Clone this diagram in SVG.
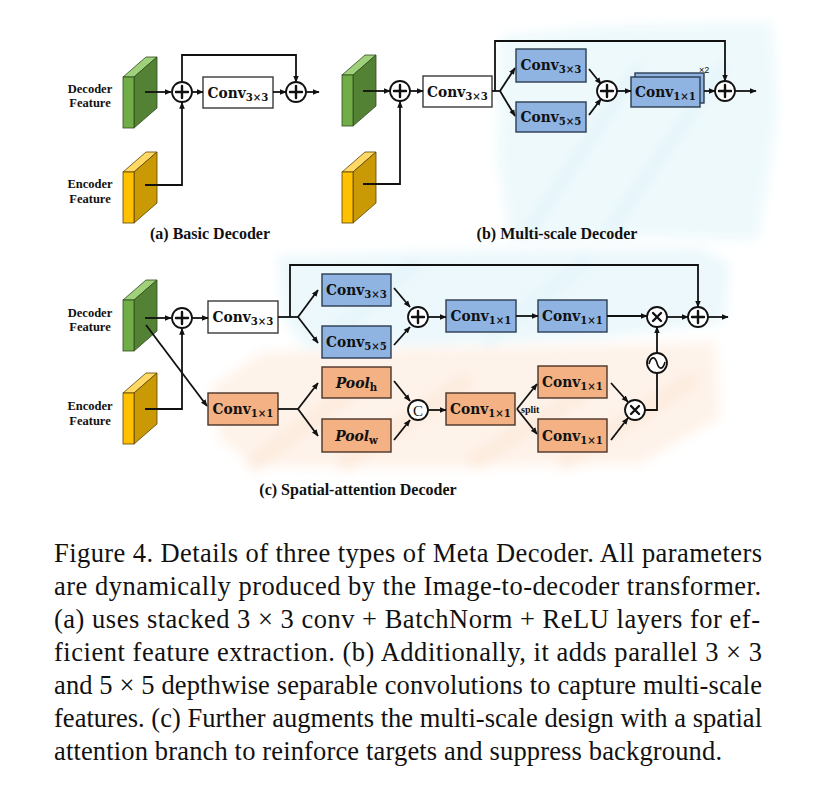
<svg xmlns="http://www.w3.org/2000/svg" width="825" height="796" viewBox="0 0 825 796">
<style>
.ln{fill:none;stroke:#111;stroke-width:1.8}
.arr{fill:none;stroke:#111;stroke-width:1.8;marker-end:url(#ah)}
.op{fill:#fff;stroke:#111;stroke-width:1.8}
.sym{fill:none;stroke:#111;stroke-width:2.4;stroke-linecap:round}
.wbox{fill:#fff;stroke:#3a3a3a;stroke-width:1.4}
.bbox{fill:#8fb4e2;stroke:#2b3d52;stroke-width:1.4}
.obox{fill:#f4b183;stroke:#4a3428;stroke-width:1.4}
.conv{font-family:"DejaVu Serif","Liberation Serif",serif;font-stretch:condensed;font-weight:bold;font-size:15.3px;fill:#111}
.sub{font-size:11.3px}
.pool{font-family:"DejaVu Serif","Liberation Serif",serif;font-stretch:condensed;font-weight:bold;font-style:italic;font-size:15.5px;fill:#111}
.lab{font-family:"Liberation Serif",serif;font-weight:bold;font-size:12.5px;fill:#111}
.cap{font-family:"Liberation Serif",serif;font-weight:bold;font-size:16px;fill:#111}
.fig{font-family:"Liberation Serif",serif;font-size:26.5px;fill:#111}
.tiny{font-family:"Liberation Serif",serif;font-weight:bold;font-size:10px;fill:#111}
.cc{font-family:"Liberation Serif",serif;font-size:15px;fill:#111}
</style>
<defs>
<marker id="ah" viewBox="0 0 10 10" refX="9" refY="5" markerWidth="7" markerHeight="7" markerUnits="userSpaceOnUse" orient="auto">
<path d="M0,1 L10,5 L0,9 z" fill="#111"/>
</marker>
<filter id="soft" x="-10%" y="-10%" width="120%" height="120%"><feGaussianBlur stdDeviation="6"/></filter>
<g id="gblk">
<polygon points="0,20 23,0 34,0 11,20" fill="#9fd07a" stroke="#2f4a1f" stroke-width="0.8"/>
<polygon points="11,20 34,0 34,51 11,71" fill="#548235" stroke="#2f4a1f" stroke-width="0.8"/>
<rect x="0" y="20" width="11" height="51" fill="#70ad47" stroke="#2f4a1f" stroke-width="0.8"/>
</g>
<g id="yblk">
<polygon points="0,20 23,0 34,0 11,20" fill="#ffd966" stroke="#5a4300" stroke-width="0.8"/>
<polygon points="11,20 34,0 34,51 11,71" fill="#c99a06" stroke="#5a4300" stroke-width="0.8"/>
<rect x="0" y="20" width="11" height="51" fill="#ffc000" stroke="#5a4300" stroke-width="0.8"/>
</g>
</defs>
<rect width="825" height="796" fill="#fff"/>

<g id="washes" filter="url(#soft)">
<path d="M500,36 L600,26 L772,22 L778,110 L768,180 L758,240 L640,236 L510,240 L498,160 Z" fill="#eef9fc"/>
<path d="M278,256 L500,250 L700,248 L730,264 L724,322 L600,338 L420,345 L305,348 L285,320 Z" fill="#ecf8fc"/>
<path d="M210,388 L262,352 L420,348 L600,345 L715,342 L720,418 L640,464 L420,468 L255,466 L220,440 Z" fill="#fef3ea"/>
<path d="M250,466 L360,385 M340,466 L470,378 M470,464 L605,378 M560,464 L695,378" stroke="#fdebdd" stroke-width="16" fill="none"/>
<path d="M525,236 L640,64 M605,236 L725,64 M325,342 L420,258 M485,342 L590,258" stroke="#e4f5fa" stroke-width="12" fill="none"/>
</g>

<!-- panel (a) -->
<g id="a-labels">
<text class="lab" x="90" y="93" text-anchor="middle">Decoder</text>
<text class="lab" x="90" y="107" text-anchor="middle">Feature</text>
<text class="lab" x="90" y="188" text-anchor="middle">Encoder</text>
<text class="lab" x="90" y="203" text-anchor="middle">Feature</text>
</g>
<g id="a-dec"><use href="#gblk" x="123" y="57"/></g>
<g id="a-enc"><use href="#yblk" x="123" y="152"/></g>
<g id="a-add1"><circle class="op" cx="182" cy="92" r="10"/><path class="sym" d="M176,92 H188 M182,86 V98"/></g>
<g id="a-conv"><rect class="wbox" x="203" y="77" width="70" height="31"/><text class="conv" x="238" y="98" text-anchor="middle">Conv<tspan class="sub" dy="3">3×3</tspan></text></g>
<g id="a-add2"><circle class="op" cx="296" cy="92" r="10"/><path class="sym" d="M290,92 H302 M296,86 V98"/></g>
<g id="a-cap"><text class="cap" x="210" y="239" text-anchor="middle">(a) Basic Decoder</text></g>

<!-- panel (b) -->
<g id="b-dec"><use href="#gblk" x="342" y="55"/></g>
<g id="b-enc"><use href="#yblk" x="342" y="152"/></g>
<g id="b-add1"><circle class="op" cx="400" cy="91" r="10"/><path class="sym" d="M394,91 H406 M400,85 V97"/></g>
<g id="b-conv"><rect class="wbox" x="423" y="76" width="69" height="31"/><text class="conv" x="457.5" y="97" text-anchor="middle">Conv<tspan class="sub" dy="3">3×3</tspan></text></g>
<g id="b-c33"><rect class="bbox" x="516" y="49" width="70" height="33"/><text class="conv" x="551" y="70" text-anchor="middle">Conv<tspan class="sub" dy="3">3×3</tspan></text></g>
<g id="b-c55"><rect class="bbox" x="516" y="102" width="70" height="30"/><text class="conv" x="551" y="122" text-anchor="middle">Conv<tspan class="sub" dy="3">5×5</tspan></text></g>
<g id="b-add2"><circle class="op" cx="607" cy="91" r="10"/><path class="sym" d="M601,91 H613 M607,85 V97"/></g>
<g id="b-c11">
<rect class="bbox" x="635" y="73" width="69" height="30"/>
<rect class="bbox" x="631" y="77" width="69" height="30"/>
<text class="conv" x="665.5" y="97" text-anchor="middle">Conv<tspan class="sub" dy="3">1×1</tspan></text>
<text x="699" y="73" font-family="Liberation Sans,sans-serif" font-size="9" fill="#111">×2</text>
</g>
<g id="b-add3"><circle class="op" cx="725" cy="91" r="10"/><path class="sym" d="M719,91 H731 M725,85 V97"/></g>
<g id="b-cap"><text class="cap" x="557" y="239" text-anchor="middle">(b) Multi-scale Decoder</text></g>

<!-- panel (c) -->
<g id="c-labels">
<text class="lab" x="90" y="317" text-anchor="middle">Decoder</text>
<text class="lab" x="90" y="331" text-anchor="middle">Feature</text>
<text class="lab" x="90" y="410" text-anchor="middle">Encoder</text>
<text class="lab" x="90" y="425" text-anchor="middle">Feature</text>
</g>
<g id="c-dec"><use href="#gblk" x="123" y="280"/></g>
<g id="c-enc"><use href="#yblk" x="123" y="373"/></g>
<g id="c-add1"><circle class="op" cx="182" cy="318" r="10"/><path class="sym" d="M176,318 H188 M182,312 V324"/></g>
<g id="c-conv"><rect class="wbox" x="208" y="301" width="70" height="32"/><text class="conv" x="243" y="322" text-anchor="middle">Conv<tspan class="sub" dy="3">3×3</tspan></text></g>
<g id="c-c33"><rect class="bbox" x="322" y="274" width="69" height="32"/><text class="conv" x="356.5" y="295" text-anchor="middle">Conv<tspan class="sub" dy="3">3×3</tspan></text></g>
<g id="c-c55"><rect class="bbox" x="322" y="326" width="69" height="32"/><text class="conv" x="356.5" y="347" text-anchor="middle">Conv<tspan class="sub" dy="3">5×5</tspan></text></g>
<g id="c-add2"><circle class="op" cx="418" cy="317" r="10"/><path class="sym" d="M412,317 H424 M418,311 V323"/></g>
<g id="c-c11a"><rect class="bbox" x="446" y="300" width="70" height="32"/><text class="conv" x="481" y="321" text-anchor="middle">Conv<tspan class="sub" dy="3">1×1</tspan></text></g>
<g id="c-c11b"><rect class="bbox" x="538" y="300" width="69" height="32"/><text class="conv" x="572.5" y="321" text-anchor="middle">Conv<tspan class="sub" dy="3">1×1</tspan></text></g>
<g id="c-mul1"><circle class="op" cx="657" cy="317" r="10"/><path class="sym" d="M653,313 L661,321 M661,313 L653,321"/></g>
<g id="c-add3"><circle class="op" cx="698" cy="317" r="10"/><path class="sym" d="M692,317 H704 M698,311 V323"/></g>
<g id="c-o11"><rect class="obox" x="208" y="393" width="70" height="32"/><text class="conv" x="243" y="414" text-anchor="middle">Conv<tspan class="sub" dy="3">1×1</tspan></text></g>
<g id="c-poolh"><rect class="obox" x="322" y="367" width="69" height="31"/><text class="pool" x="356.5" y="388" text-anchor="middle">Pool<tspan class="sub" font-style="normal" dy="3">h</tspan></text></g>
<g id="c-poolw"><rect class="obox" x="322" y="419" width="69" height="33"/><text class="pool" x="356.5" y="441" text-anchor="middle">Pool<tspan class="sub" font-style="normal" dy="3">w</tspan></text></g>
<g id="c-cat"><circle class="op" cx="418" cy="410" r="10"/><text class="cc" x="418" y="415.5" text-anchor="middle">C</text></g>
<g id="c-o11b"><rect class="obox" x="446" y="393" width="69" height="32"/><text class="conv" x="480.5" y="414" text-anchor="middle">Conv<tspan class="sub" dy="3">1×1</tspan></text></g>
<g id="c-o11c"><rect class="obox" x="538" y="366" width="69" height="32"/><text class="conv" x="572.5" y="387" text-anchor="middle">Conv<tspan class="sub" dy="3">1×1</tspan></text></g>
<g id="c-o11d"><rect class="obox" x="538" y="419" width="69" height="33"/><text class="conv" x="572.5" y="441" text-anchor="middle">Conv<tspan class="sub" dy="3">1×1</tspan></text></g>
<g id="c-mul2"><circle class="op" cx="635" cy="410" r="10"/><path class="sym" d="M631,406 L639,414 M639,406 L631,414"/></g>
<g id="c-sig"><circle class="op" cx="657" cy="363" r="10"/><path fill="none" stroke="#111" stroke-width="1.6" d="M649,364 C651,356 655,356 657,363 C659,370 663,370 665,362"/></g>
<g id="c-split"><text class="tiny" x="521" y="413">split</text></g>
<g id="c-cap"><text class="cap" x="358" y="495" text-anchor="middle">(c) Spatial-attention Decoder</text></g>

<!-- connectors -->
<g id="connectors">
<path class="arr" d="M145,92 H171"/>
<path class="arr" d="M145,185 H182 V102.5"/>
<path class="arr" d="M192,92 H203"/>
<path class="arr" d="M273,92 H286"/>
<path class="arr" d="M182,82 V55 H296 V82"/>
<path class="arr" d="M306,92 H319"/>
<path class="arr" d="M363,91 H390"/>
<path class="arr" d="M363,184 H400 V101.5"/>
<path class="arr" d="M410,91 H423"/>
<path class="ln" d="M492,91 H500"/>
<path class="arr" d="M500,91 L515,68"/>
<path class="arr" d="M500,91 L515,116"/>
<path class="arr" d="M495,91 V41 H725 V81"/>
<path class="arr" d="M589,69 L601,84"/>
<path class="arr" d="M589,115 L601,99"/>
<path class="arr" d="M617,91 H631"/>
<path class="arr" d="M704,91 H715"/>
<path class="arr" d="M735,91 H756"/>
<path class="arr" d="M145,318 H171"/>
<path class="arr" d="M145,409 H182 V328.5"/>
<path class="arr" d="M146,325 L207,406"/>
<path class="arr" d="M192,318 H208"/>
<path class="ln" d="M278,317 H298"/>
<path class="arr" d="M298,317 L318,290"/>
<path class="arr" d="M298,317 L318,343"/>
<path class="arr" d="M290,317 V265 H698 V307"/>
<path class="arr" d="M394,288 L410,307"/>
<path class="arr" d="M394,345 L410,327"/>
<path class="arr" d="M428,317 H446"/>
<path class="arr" d="M516,316 H538"/>
<path class="arr" d="M607,316 H647"/>
<path class="arr" d="M667,317 H688"/>
<path class="arr" d="M708,317 H728"/>
<path class="ln" d="M278,409 H298"/>
<path class="arr" d="M298,409 L318,383"/>
<path class="arr" d="M298,409 L318,436"/>
<path class="arr" d="M394,381 L410,401"/>
<path class="arr" d="M394,440 L410,420"/>
<path class="arr" d="M428,410 H446"/>
<path class="arr" d="M517,409 L537,384"/>
<path class="arr" d="M517,409 L537,434"/>
<path class="arr" d="M611,383 L628,402"/>
<path class="arr" d="M611,440 L628,418"/>
<path class="ln" d="M645,410 H657 V373"/>
<path class="arr" d="M657,353 V327"/>
</g>

<g id="caption">
<text class="fig" x="54" y="562" textLength="708" lengthAdjust="spacing">Figure 4. Details of three types of Meta Decoder. All parameters</text>
<text class="fig" x="54" y="595" textLength="707" lengthAdjust="spacing">are dynamically produced by the Image-to-decoder transformer.</text>
<text class="fig" x="54" y="628" textLength="706" lengthAdjust="spacing">(a) uses stacked 3 × 3 conv + BatchNorm + ReLU layers for ef-</text>
<text class="fig" x="54" y="661" textLength="708" lengthAdjust="spacing">ficient feature extraction. (b) Additionally, it adds parallel 3 × 3</text>
<text class="fig" x="54" y="694" textLength="708" lengthAdjust="spacing">and 5 × 5 depthwise separable convolutions to capture multi-scale</text>
<text class="fig" x="54" y="727" textLength="708" lengthAdjust="spacing">features. (c) Further augments the multi-scale design with a spatial</text>
<text class="fig" x="54" y="760" textLength="668" lengthAdjust="spacing">attention branch to reinforce targets and suppress background.</text>
</g>
</svg>
